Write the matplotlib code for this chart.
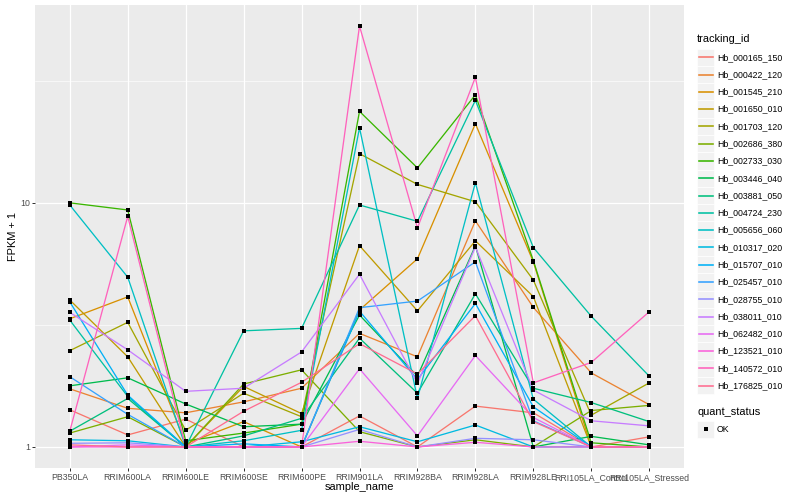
import numpy as np
import matplotlib
matplotlib.use("Agg")
import matplotlib.pyplot as plt
from matplotlib.patches import Rectangle
from matplotlib.lines import Line2D
from matplotlib.ticker import NullLocator

plt.rcParams['font.family'] = ['Liberation Sans', 'DejaVu Sans']

samples = ["PB350LA", "RRIM600LA", "RRIM600LE", "RRIM600SE", "RRIM600PE",
           "RRIM901LA", "RRIM928BA", "RRIM928LA", "RRIM928LE",
           "RRI105LA_Control", "RRI105LA_Stressed"]

tracking_ids = ["Hb_000165_150", "Hb_000422_120", "Hb_001545_210", "Hb_001650_010",
                "Hb_001703_120", "Hb_002686_380", "Hb_002733_030", "Hb_003446_040",
                "Hb_003881_050", "Hb_004724_230", "Hb_005656_060", "Hb_010317_020",
                "Hb_015707_010", "Hb_025457_010", "Hb_028755_010", "Hb_038011_010",
                "Hb_062482_010", "Hb_123521_010", "Hb_140572_010", "Hb_176825_010"]

colors = ["#F8766D", "#EA8331", "#D89000", "#C09B00", "#A3A500", "#7CAE00", "#39B600",
          "#00BB4E", "#00BF7D", "#00C1A3", "#00BFC4", "#00BAE0", "#00B0F6", "#35A2FF",
          "#9590FF", "#C77CFF", "#E76BF3", "#FA62DB", "#FF62BC", "#FF6C90"]

# FPKM + 1 values per sample (order as in `samples`)
hb_000165_150 = [1.42, 1.12, 1.30, 1.00, 1.00, 1.34, 1.00, 1.47, 1.38, 1.00, 1.10]
hb_000422_120 = [1.73, 1.44, 1.38, 1.53, 1.74, 2.92, 2.34, 8.44, 3.73, 2.01, 1.49]
hb_001545_210 = [3.35, 4.12, 1.03, 1.27, 1.00, 3.64, 5.90, 21.1, 5.73, 1.00, 1.00]
hb_001650_010 = [4.00, 2.34, 1.00, 1.77, 1.37, 6.68, 3.61, 6.99, 4.13, 1.00, 1.00]
hb_001703_120 = [2.48, 3.24, 1.17, 1.66, 1.33, 15.9, 11.9, 10.1, 4.83, 1.35, 1.83]
hb_002686_380 = [1.14, 1.33, 1.00, 1.81, 2.07, 1.155, 1.00, 1.07, 1.00, 1.41, 1.48]
hb_002733_030 = [10.0, 9.35, 1.06, 1.14, 1.24, 23.7, 13.9, 27.7, 5.80, 1.04, 1.00]
hb_003446_040 = [1.78, 1.92, 1.50, 1.21, 1.24, 3.47, 1.95, 6.67, 1.00, 1.105, 1.02]
hb_003881_050 = [1.16, 1.58, 1.00, 1.11, 1.31, 2.79, 1.66, 4.24, 1.74, 1.52, 1.27]
hb_004724_230 = [3.31, 1.61, 1.00, 2.99, 3.06, 9.80, 8.40, 26.3, 6.56, 3.43, 1.95]
hb_005656_060 = [9.80, 4.96, 1.00, 1.06, 1.17, 20.3, 1.58, 12.1, 1.57, 1.00, 1.00]
hb_010317_020 = [1.07, 1.06, 1.00, 1.00, 1.05, 1.21, 1.05, 1.23, 1.00, 1.00, 1.00]
hb_015707_010 = [3.93, 1.63, 1.00, 1.03, 1.00, 3.60, 1.89, 3.87, 1.46, 1.00, 1.00]
hb_025457_010 = [1.94, 1.36, 1.00, 1.00, 1.00, 3.72, 3.96, 5.73, 1.28, 1.00, 1.00]
hb_028755_010 = [1.035, 1.04, 1.00, 1.00, 1.00, 1.18, 1.00, 1.085, 1.07, 1.00, 1.00]
hb_038011_010 = [3.56, 2.50, 1.69, 1.74, 2.45, 5.10, 1.82, 6.60, 1.71, 1.28, 1.22]
hb_062482_010 = [1.00, 1.02, 1.00, 1.00, 1.00, 2.09, 1.11, 2.37, 1.32, 1.00, 1.00]
hb_123521_010 = [1.00, 1.00, 1.00, 1.00, 1.00, 1.055, 1.00, 1.045, 1.00, 1.00, 1.00]
hb_140572_010 = [1.16, 8.80, 1.00, 1.00, 1.00, 53.0, 7.90, 32.7, 1.83, 2.22, 3.58]
hb_176825_010 = [1.02, 1.00, 1.00, 1.40, 1.84, 2.65, 1.99, 3.45, 1.27, 1.00, 1.00]

series = [hb_000165_150, hb_000422_120, hb_001545_210, hb_001650_010, hb_001703_120,
          hb_002686_380, hb_002733_030, hb_003446_040, hb_003881_050, hb_004724_230,
          hb_005656_060, hb_010317_020, hb_015707_010, hb_025457_010, hb_028755_010,
          hb_038011_010, hb_062482_010, hb_123521_010, hb_140572_010, hb_176825_010]

yticks = [1, 10]
ytick_labels = ["1", "10"]

W, H = 800, 500
PT = 72.0 / 100.0  # px -> pt


def fx(px):
    return px / W


def fy(py):
    return 1 - py / H


fig = plt.figure(figsize=(W / 100, H / 100), dpi=100)
fig.patch.set_facecolor("white")

L, R, T, B = 35, 684, 5, 468
ax = fig.add_axes([fx(L), fy(B), fx(R) - fx(L), fy(T) - fy(B)])
ax.set_facecolor("#EBEBEB")
for s in ax.spines.values():
    s.set_visible(False)

ax.set_yscale("log")
allv = np.concatenate([np.asarray(s, float) for s in series])
lo, hi = np.log10(allv.min()), np.log10(allv.max())
pad = 0.05 * (hi - lo)
ax.set_ylim(10 ** (lo - pad), 10 ** (hi + pad))
x = np.arange(len(samples))
ax.set_xlim(-0.6, len(samples) - 1 + 0.6)

# grid
for v in [10 ** 0.5, 10 ** 1.5]:
    ax.axhline(v, color="white", lw=0.6 * PT, zorder=0.5)
for v in yticks:
    ax.axhline(v, color="white", lw=1.2 * PT, zorder=0.6)
for xi in x:
    ax.axvline(xi, color="white", lw=1.2 * PT, zorder=0.6)

for vals, c in zip(series, colors):
    ax.plot(x, vals, color=c, lw=1.3 * PT, zorder=2, solid_joinstyle="round")
for vals in series:
    ax.plot(x, vals, linestyle="none", marker="s", ms=3.8 * PT, mew=0,
            color="black", zorder=3)

ax.set_yticks(yticks)
ax.set_yticklabels(ytick_labels)
ax.yaxis.set_minor_locator(NullLocator())
ax.set_xticks(x)
ax.set_xticklabels(samples)
ax.tick_params(axis="both", which="major", length=2.75 * PT, width=1.0 * PT,
               color="#333333", labelsize=8.8 * PT, labelcolor="#4D4D4D",
               pad=2.2 * PT)

fig.text(fx((L + R) / 2), fy(487), "sample_name", ha="center", va="center",
         fontsize=11 * PT, color="black")
fig.text(fx(13), fy((T + B) / 2), "FPKM + 1", ha="center", va="center",
         rotation=90, fontsize=11 * PT, color="black")

# legend: tracking_id
fig.text(fx(697), fy(39), "tracking_id", ha="left", va="center",
         fontsize=11 * PT, color="black")
ks = 17.28
for i, (tid, c) in enumerate(zip(tracking_ids, colors)):
    cy = 57.3 + ks * i
    fig.add_artist(Rectangle((fx(697), fy(cy + ks / 2)), ks / W, ks / H,
                             transform=fig.transFigure, facecolor="#F2F2F2",
                             edgecolor="white", lw=0.5, zorder=1))
    fig.add_artist(Line2D([fx(698.7), fx(697 + ks - 1.7)], [fy(cy), fy(cy)],
                          transform=fig.transFigure, color=c, lw=1.6 * PT,
                          zorder=5))
    fig.text(fx(717), fy(cy), tid, ha="left", va="center",
             fontsize=8.8 * PT, color="black")

# legend: quant_status
fig.text(fx(697), fy(412.3), "quant_status", ha="left", va="center",
         fontsize=11 * PT, color="black")
cy = 429.3
fig.add_artist(Rectangle((fx(697), fy(cy + ks / 2)), ks / W, ks / H,
                         transform=fig.transFigure, facecolor="#F2F2F2",
                         edgecolor="white", lw=0.5, zorder=1))
fig.add_artist(Line2D([fx(697 + ks / 2)], [fy(cy)], transform=fig.transFigure,
                      marker="s", ms=3.8 * PT, mew=0, color="black",
                      linestyle="none", zorder=5))
fig.text(fx(717), fy(cy), "OK", ha="left", va="center", fontsize=8.8 * PT, color="black")

fig.savefig("out.png", dpi=100)
